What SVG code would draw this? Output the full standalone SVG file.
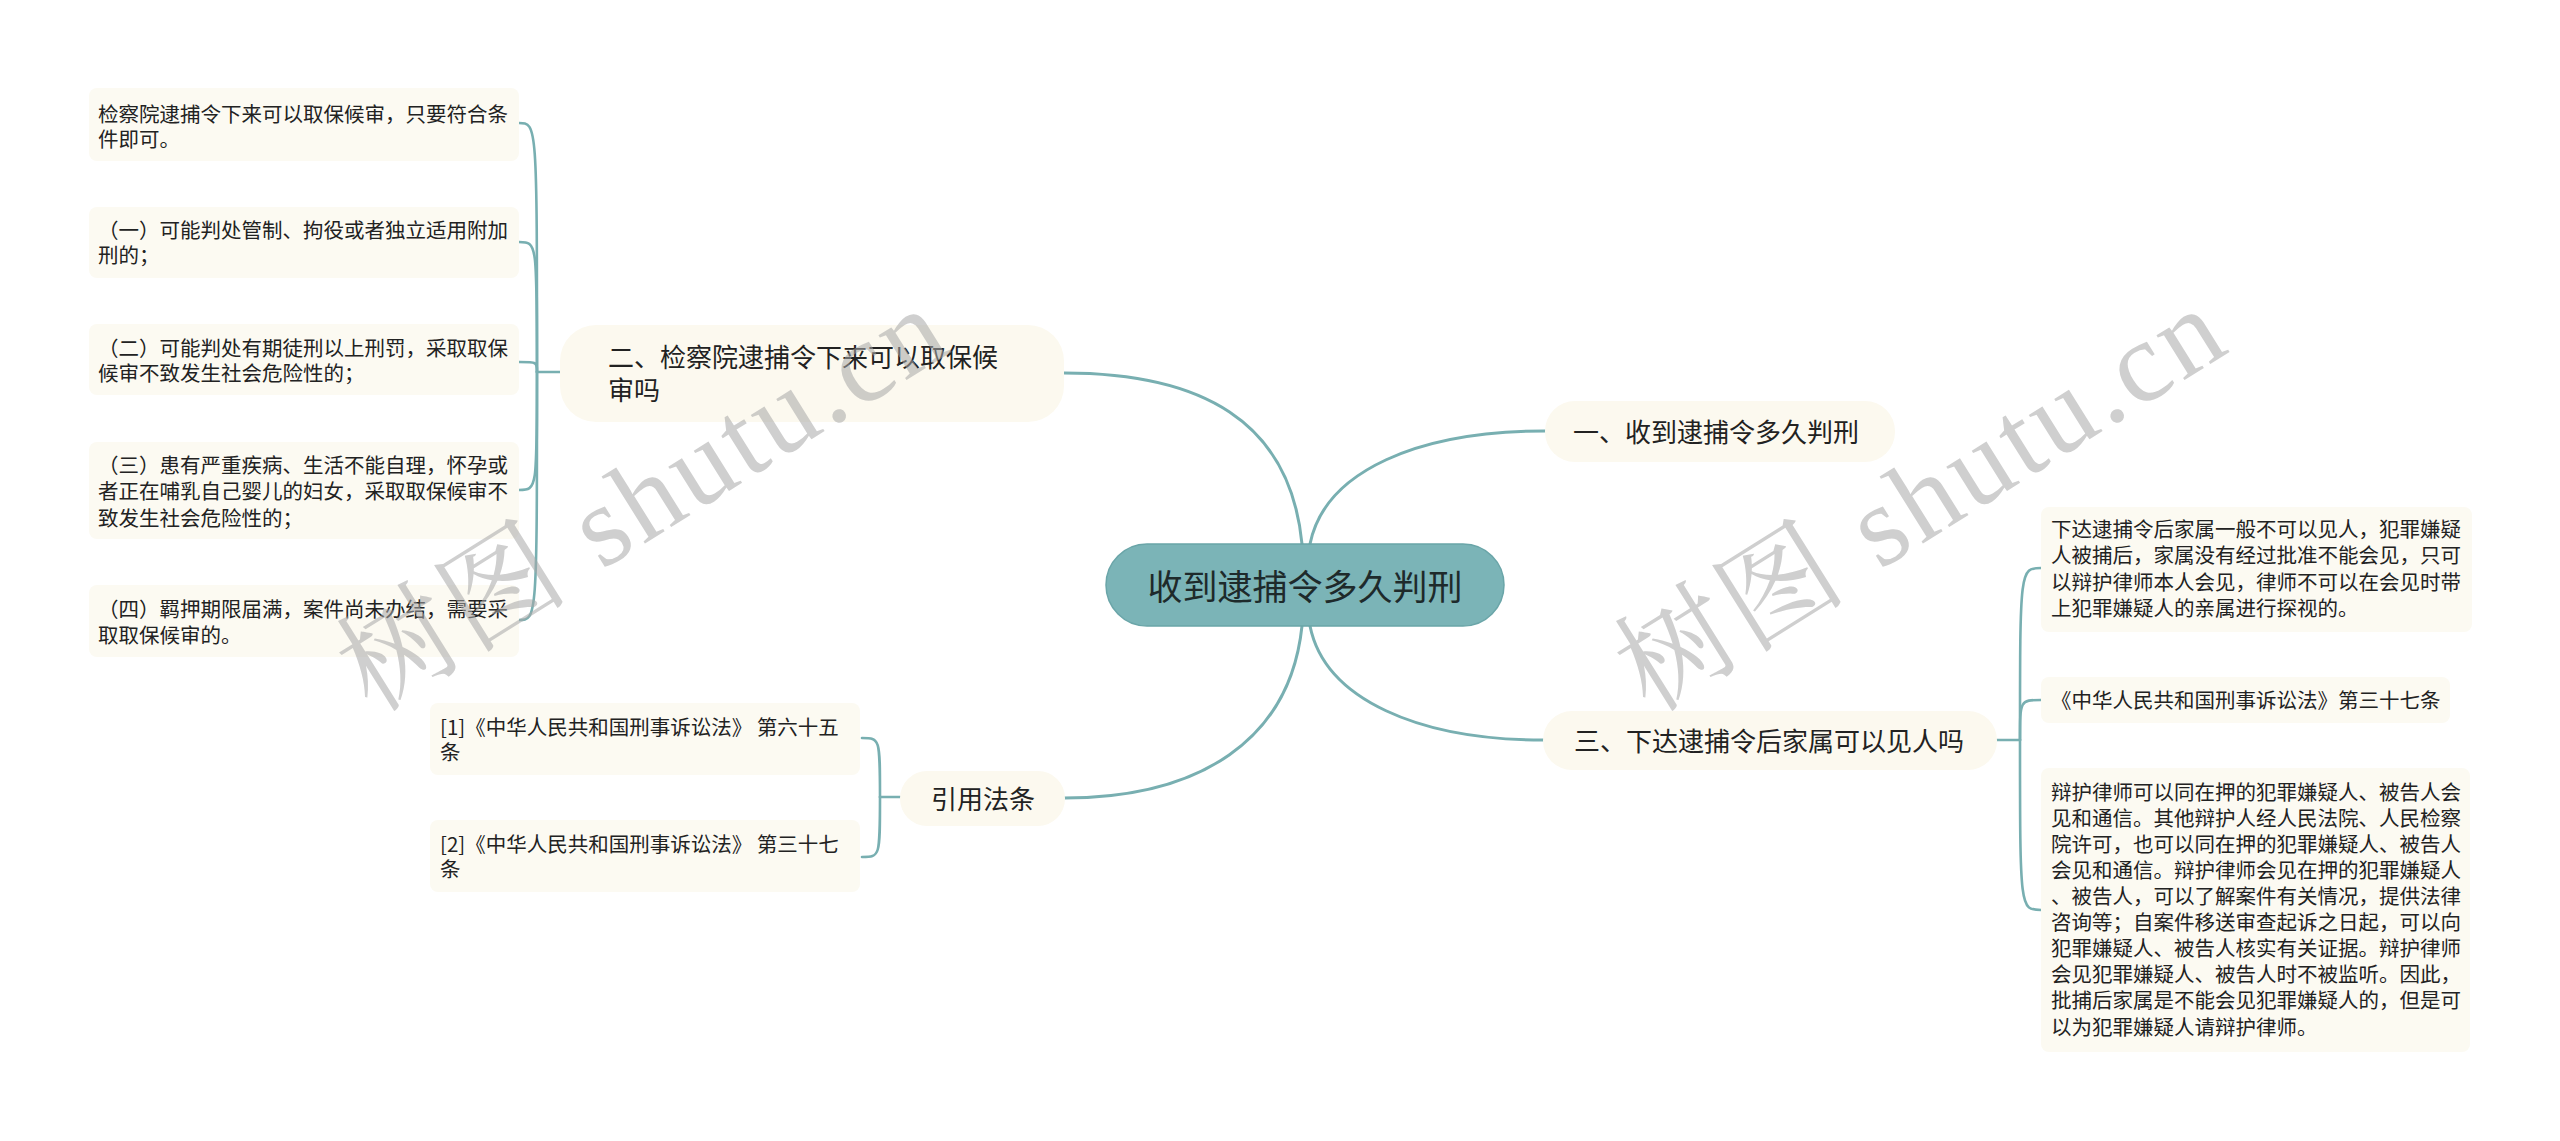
<svg xmlns="http://www.w3.org/2000/svg" width="2560" height="1141" viewBox="0 0 2560 1141">
<style>
.bg{fill:#ffffff}
.con{fill:none;stroke:#78afb1;stroke-width:3;stroke-linecap:round}
.lcon{fill:none;stroke:#78afb1;stroke-width:2.6;stroke-linecap:round}
.root{fill:#7bb4b7;stroke:#6aa5a8;stroke-width:1.5}
.main{fill:#fcf9ef}
.leaf{fill:#fcfaf2}
.t{font-family:"Noto Sans CJK SC","Liberation Sans",sans-serif;fill:#222222}
.rt{font-size:35px;fill:#1e2a2b}
.mt{font-size:26px}
.lt{font-size:20.5px}
.wm{font-family:"Liberation Serif","Noto Serif CJK SC","Noto Sans CJK SC",serif;font-size:115px;fill:#a8a8a8;opacity:0.55}
</style>
<rect class="bg" x="0" y="0" width="2560" height="1141"/>
<g id="connectors">
  <path class="con" d="M1302 544 C1290 420 1200 373 1064 373"/>
  <path class="con" d="M1310 544 C1325 470 1420 431 1545 431"/>
  <path class="con" d="M1310 626 C1325 700 1420 740 1543 740"/>
  <path class="con" d="M1302 626 C1290 740 1200 798 1064 798"/>
  <path class="lcon" d="M560 372 L537 372"/>
  <path class="lcon" d="M519 123 C537 123 537 123 537 372"/>
  <path class="lcon" d="M519 242 C537 242 537 242 537 372"/>
  <path class="lcon" d="M519 362 C537 362 537 362 537 372"/>
  <path class="lcon" d="M519 490 C537 490 537 490 537 372"/>
  <path class="lcon" d="M519 620 C537 620 537 620 537 372"/>
  <path class="lcon" d="M900 797 L880 797"/>
  <path class="lcon" d="M862 738 C880 738 880 738 880 797"/>
  <path class="lcon" d="M862 857 C880 857 880 857 880 797"/>
  <path class="lcon" d="M1997 740 L2020 740"/>
  <path class="lcon" d="M2041 568 C2020 568 2020 568 2020 740"/>
  <path class="lcon" d="M2041 700 C2020 700 2020 700 2020 740"/>
  <path class="lcon" d="M2041 910 C2020 910 2020 910 2020 740"/>
</g>
<g id="root">
  <rect class="root" x="1106" y="544" width="398" height="82" rx="41"/>
  <text class="t rt" x="1305" y="600" text-anchor="middle">收到逮捕令多久判刑</text>
</g>
<g id="n1">
  <rect class="main" x="1545" y="401" width="350" height="61" rx="30"/>
  <text class="t mt" x="1573" y="442">一、收到逮捕令多久判刑</text>
</g>
<g id="n2">
  <rect class="main" x="560" y="325" width="504" height="97" rx="36"/>
  <text class="t mt" x="608" y="367">二、检察院逮捕令下来可以取保候</text>
  <text class="t mt" x="608" y="400">审吗</text>
</g>
<g id="n3">
  <rect class="main" x="1543" y="711" width="454" height="59" rx="29"/>
  <text class="t mt" x="1574" y="751">三、下达逮捕令后家属可以见人吗</text>
</g>
<g id="n4">
  <rect class="main" x="900" y="771" width="165" height="55" rx="27"/>
  <text class="t mt" x="983" y="809" text-anchor="middle">引用法条</text>
</g>
<g id="l1">
  <rect class="leaf" x="89" y="88" width="430" height="73" rx="8"/>
  <text class="t lt" x="98" y="122">检察院逮捕令下来可以取保候审，只要符合条</text>
  <text class="t lt" x="98" y="147">件即可。</text>
</g>
<g id="l2">
  <rect class="leaf" x="89" y="207" width="430" height="71" rx="8"/>
  <text class="t lt" x="98" y="238">（一）可能判处管制、拘役或者独立适用附加</text>
  <text class="t lt" x="98" y="263">刑的；</text>
</g>
<g id="l3">
  <rect class="leaf" x="89" y="324" width="430" height="71" rx="8"/>
  <text class="t lt" x="98" y="356">（二）可能判处有期徒刑以上刑罚，采取取保</text>
  <text class="t lt" x="98" y="381">候审不致发生社会危险性的；</text>
</g>
<g id="l4">
  <rect class="leaf" x="89" y="442" width="430" height="97" rx="8"/>
  <text class="t lt" x="98" y="473">（三）患有严重疾病、生活不能自理，怀孕或</text>
  <text class="t lt" x="98" y="499">者正在哺乳自己婴儿的妇女，采取取保候审不</text>
  <text class="t lt" x="98" y="526">致发生社会危险性的；</text>
</g>
<g id="l5">
  <rect class="leaf" x="89" y="585" width="430" height="72" rx="8"/>
  <text class="t lt" x="98" y="617">（四）羁押期限届满，案件尚未办结，需要采</text>
  <text class="t lt" x="98" y="643">取取保候审的。</text>
</g>
<g id="c1">
  <rect class="leaf" x="430" y="703" width="430" height="72" rx="8"/>
  <text class="t lt" x="440" y="735">[1]《中华人民共和国刑事诉讼法》 第六十五</text>
  <text class="t lt" x="440" y="760">条</text>
</g>
<g id="c2">
  <rect class="leaf" x="430" y="820" width="430" height="72" rx="8"/>
  <text class="t lt" x="440" y="852">[2]《中华人民共和国刑事诉讼法》 第三十七</text>
  <text class="t lt" x="440" y="877">条</text>
</g>
<g id="r1">
  <rect class="leaf" x="2041" y="507" width="431" height="125" rx="8"/>
  <text class="t lt" x="2051" y="537">下达逮捕令后家属一般不可以见人，犯罪嫌疑</text>
  <text class="t lt" x="2051" y="563">人被捕后，家属没有经过批准不能会见，只可</text>
  <text class="t lt" x="2051" y="590">以辩护律师本人会见，律师不可以在会见时带</text>
  <text class="t lt" x="2051" y="616">上犯罪嫌疑人的亲属进行探视的。</text>
</g>
<g id="r2">
  <rect class="leaf" x="2041" y="677" width="409" height="46" rx="8"/>
  <text class="t lt" x="2051" y="708">《中华人民共和国刑事诉讼法》第三十七条</text>
</g>
<g id="r3">
  <rect class="leaf" x="2041" y="768" width="429" height="284" rx="8"/>
  <text class="t lt" x="2051" y="800">辩护律师可以同在押的犯罪嫌疑人、被告人会</text>
  <text class="t lt" x="2051" y="826">见和通信。其他辩护人经人民法院、人民检察</text>
  <text class="t lt" x="2051" y="852">院许可，也可以同在押的犯罪嫌疑人、被告人</text>
  <text class="t lt" x="2051" y="878">会见和通信。辩护律师会见在押的犯罪嫌疑人</text>
  <text class="t lt" x="2051" y="904">、被告人，可以了解案件有关情况，提供法律</text>
  <text class="t lt" x="2051" y="930">咨询等；自案件移送审查起诉之日起，可以向</text>
  <text class="t lt" x="2051" y="956">犯罪嫌疑人、被告人核实有关证据。辩护律师</text>
  <text class="t lt" x="2051" y="982">会见犯罪嫌疑人、被告人时不被监听。因此，</text>
  <text class="t lt" x="2051" y="1008">批捕后家属是不能会见犯罪嫌疑人的，但是可</text>
  <text class="t lt" x="2051" y="1035">以为犯罪嫌疑人请辩护律师。</text>
</g>
<g id="watermark">
  <text class="wm" transform="translate(372 714) rotate(-32)" textLength="685" lengthAdjust="spacing">树图 shutu.cn</text>
  <text class="wm" transform="translate(1650 714) rotate(-32)" textLength="685" lengthAdjust="spacing">树图 shutu.cn</text>
</g>
</svg>
